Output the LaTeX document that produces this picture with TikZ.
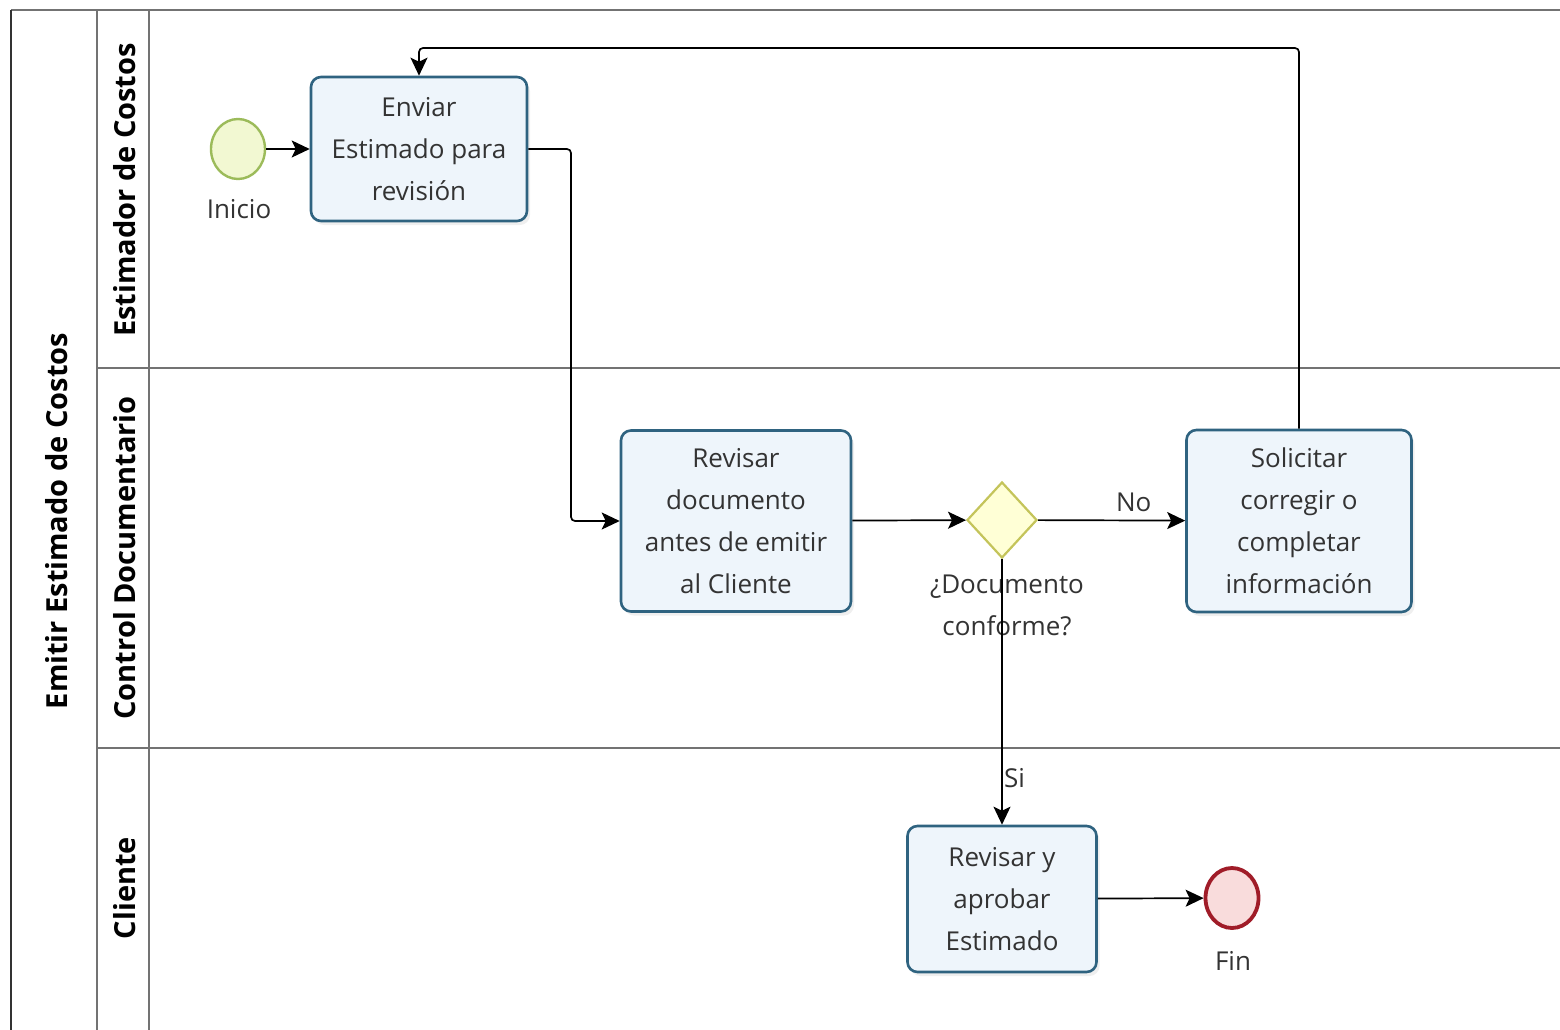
\documentclass[tikz,border=0pt]{standalone}
\usepackage{fontspec}
\setmainfont{Open Sans}
\usetikzlibrary{shapes.geometric,arrows.meta,shadows}
\begin{document}
\begin{tikzpicture}[x=1pt,y=-1pt,
  lane/.style={draw=black!55, line width=1.6pt},
  task/.style={draw=taskborder, fill=taskfill, line width=2.6pt, rounded corners=10pt,
    align=center, font=\fontsize{26}{42}\selectfont, text=black!80, inner sep=0pt,
    drop shadow={opacity=0.12, shadow xshift=3pt, shadow yshift=-4pt}},
  startev/.style={ellipse, draw=startborder, fill=startfill, line width=2.4pt, minimum width=54pt, minimum height=60pt, inner sep=0pt},
  endev/.style={ellipse, draw=endborder, fill=endfill, line width=3.8pt, minimum width=53pt, minimum height=60pt, inner sep=0pt},
  gate/.style={diamond, draw=gateborder, fill=gatefill, line width=2.2pt, minimum width=70pt, minimum height=76pt, inner sep=0pt},
  lbl/.style={font=\fontsize{26}{42}\selectfont, align=center, text=black!80},
  hdr/.style={font=\fontsize{29}{34}\selectfont\bfseries, rotate=90},
  flow/.style={draw=black, line width=1.7pt, -{Stealth[length=18pt,width=17pt,inset=4pt]}, rounded corners=4pt}
]
\definecolor{taskborder}{HTML}{2F6380}
\definecolor{taskfill}{HTML}{EEF5FB}
\definecolor{startborder}{HTML}{9CBB5A}
\definecolor{startfill}{HTML}{F2F8D2}
\definecolor{endborder}{HTML}{A01C28}
\definecolor{endfill}{HTML}{F9DCDC}
\definecolor{gateborder}{HTML}{C4C45A}
\definecolor{gatefill}{HTML}{FFFFD6}
\useasboundingbox (0,0) rectangle (1560,1030);
\fill[white] (0,0) rectangle (1560,1030);
% pool and lanes
\draw[lane] (11,10) -- (1560,10);
\draw[draw=black!80, line width=1.6pt] (11,10) -- (11,1030);
\draw[lane] (97,10) -- (97,1030);
\draw[lane] (149,10) -- (149,1030);
\draw[lane] (97,368) -- (1560,368);
\draw[lane] (97,748) -- (1560,748);
\node[hdr] (pool) at (57,521) {Emitir Estimado de Costos};
\node[hdr] (l1) at (125,190) {Estimador de Costos};
\node[hdr] (l2) at (125,558) {Control Documentario};
\node[hdr] (l3) at (125,888) {Cliente};
% nodes
\node[startev] (start) at (238,149) {};
\node[lbl] (startl) at (239,209) {Inicio};
\node[task, minimum width=216pt, minimum height=144pt] (t1) at (419,149) {Enviar\\Estimado para\\revisión};
\node[task, minimum width=230pt, minimum height=181pt] (t2) at (736,521) {Revisar\\documento\\antes de emitir\\al Cliente};
\node[gate] (g) at (1002,520) {};
\node[lbl] (gl) at (1007,605) {¿Documento\\conforme?};
\node[task, minimum width=225pt, minimum height=182pt] (t3) at (1299,521) {Solicitar\\corregir o\\completar\\información};
\node[task, minimum width=189pt, minimum height=146pt] (t4) at (1002,899) {Revisar y\\aprobar\\Estimado};
\node[endev] (fin) at (1232,898) {};
\node[lbl] (finl) at (1233,961) {Fin};
\coordinate (c1) at (571,149);
\coordinate (c2) at (571,521);
\coordinate (c3) at (1299,48);
\coordinate (c4) at (419,48);
% flows
\draw[flow] (start) -- (t1);
\draw[flow] (t1.east) -- (c1) -- (c2) -- (t2.west);
\draw[flow] (t2) -- (g);
\draw[flow] (g) -- node[lbl, above, pos=0.65, yshift=5pt] (no) {No} (t3);
\draw[flow] (g.south) -- node[lbl, right, pos=0.8, xshift=-2pt, yshift=-6pt] (si) {Si} (t4.north);
\draw[flow] (t3.north) -- (c3) -- (c4) -- (t1.north);
\draw[flow] (t4) -- (fin);
\end{tikzpicture}
\end{document}
